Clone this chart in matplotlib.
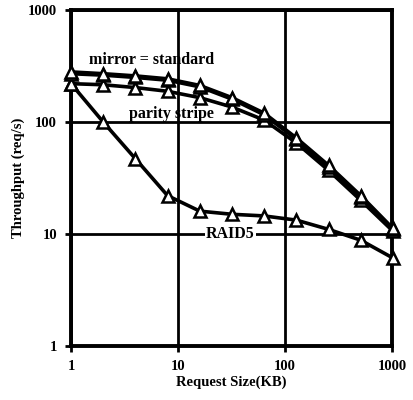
import matplotlib

matplotlib.use("Agg")
import matplotlib.pyplot as plt

sizes_kb = [1, 2, 4, 8, 16, 32, 64, 128, 256, 512, 1024]
mirror = [280, 270, 258, 243, 212, 165, 120, 72, 41, 22, 11.2]
standard = [270, 262, 250, 236, 206, 160, 116, 70, 40, 21.5, 11.0]
parity = [220, 215, 203, 188, 165, 136, 104, 65, 37, 20, 10.6]
raid5 = [220, 100, 47, 22, 16, 15, 14.5, 13.3, 11, 8.8, 6.1]

plt.rcParams["font.family"] = ["Liberation Serif", "DejaVu Serif"]
plt.rcParams["font.weight"] = "bold"

fig = plt.figure(figsize=(4.14, 4.0), dpi=100)
ax = fig.add_axes([0.1715, 0.135, 0.775, 0.84])

style = dict(color="black", linewidth=2.6, marker="^", markersize=8.5,
             markerfacecolor="white", markeredgecolor="black", markeredgewidth=1.8,
             zorder=3)
for series in (raid5, parity, standard, mirror):
    ax.plot(sizes_kb, series, **style)

ax.set_xscale("log")
ax.set_yscale("log")
ax.set_xlim(1, 1000)
ax.set_ylim(1, 1000)
ax.set_xticks([1, 10, 100, 1000])
ax.set_xticklabels(["1", "10", "100", "1000"])
ax.set_yticks([1, 10, 100, 1000])
ax.set_yticklabels(["1", "10", "100", "1000"])
ax.minorticks_off()
ax.tick_params(labelsize=10.5, width=2, length=4, pad=6)
ax.grid(True, color="black", linewidth=2)
for sp in ax.spines.values():
    sp.set_linewidth(2.8)
for line in ax.lines:
    line.set_clip_on(False)

ax.set_xlabel("Request Size(KB)", fontsize=10.5, fontweight="bold", labelpad=2)
ax.set_ylabel("Throughput (req/s)", fontsize=10.5, fontweight="bold", labelpad=2)

ax.text(5.7, 355, "mirror = standard", fontsize=11.5, fontweight="bold",
        ha="center", va="center", zorder=4)
ax.text(8.6, 119, "parity stripe", fontsize=11.5, fontweight="bold",
        ha="center", va="center", zorder=4)
ax.text(31, 10, "RAID5", fontsize=11.5, fontweight="bold",
        ha="center", va="center", zorder=4,
        bbox=dict(facecolor="white", edgecolor="none", pad=0.5))

fig.savefig("out.png", dpi=100)
